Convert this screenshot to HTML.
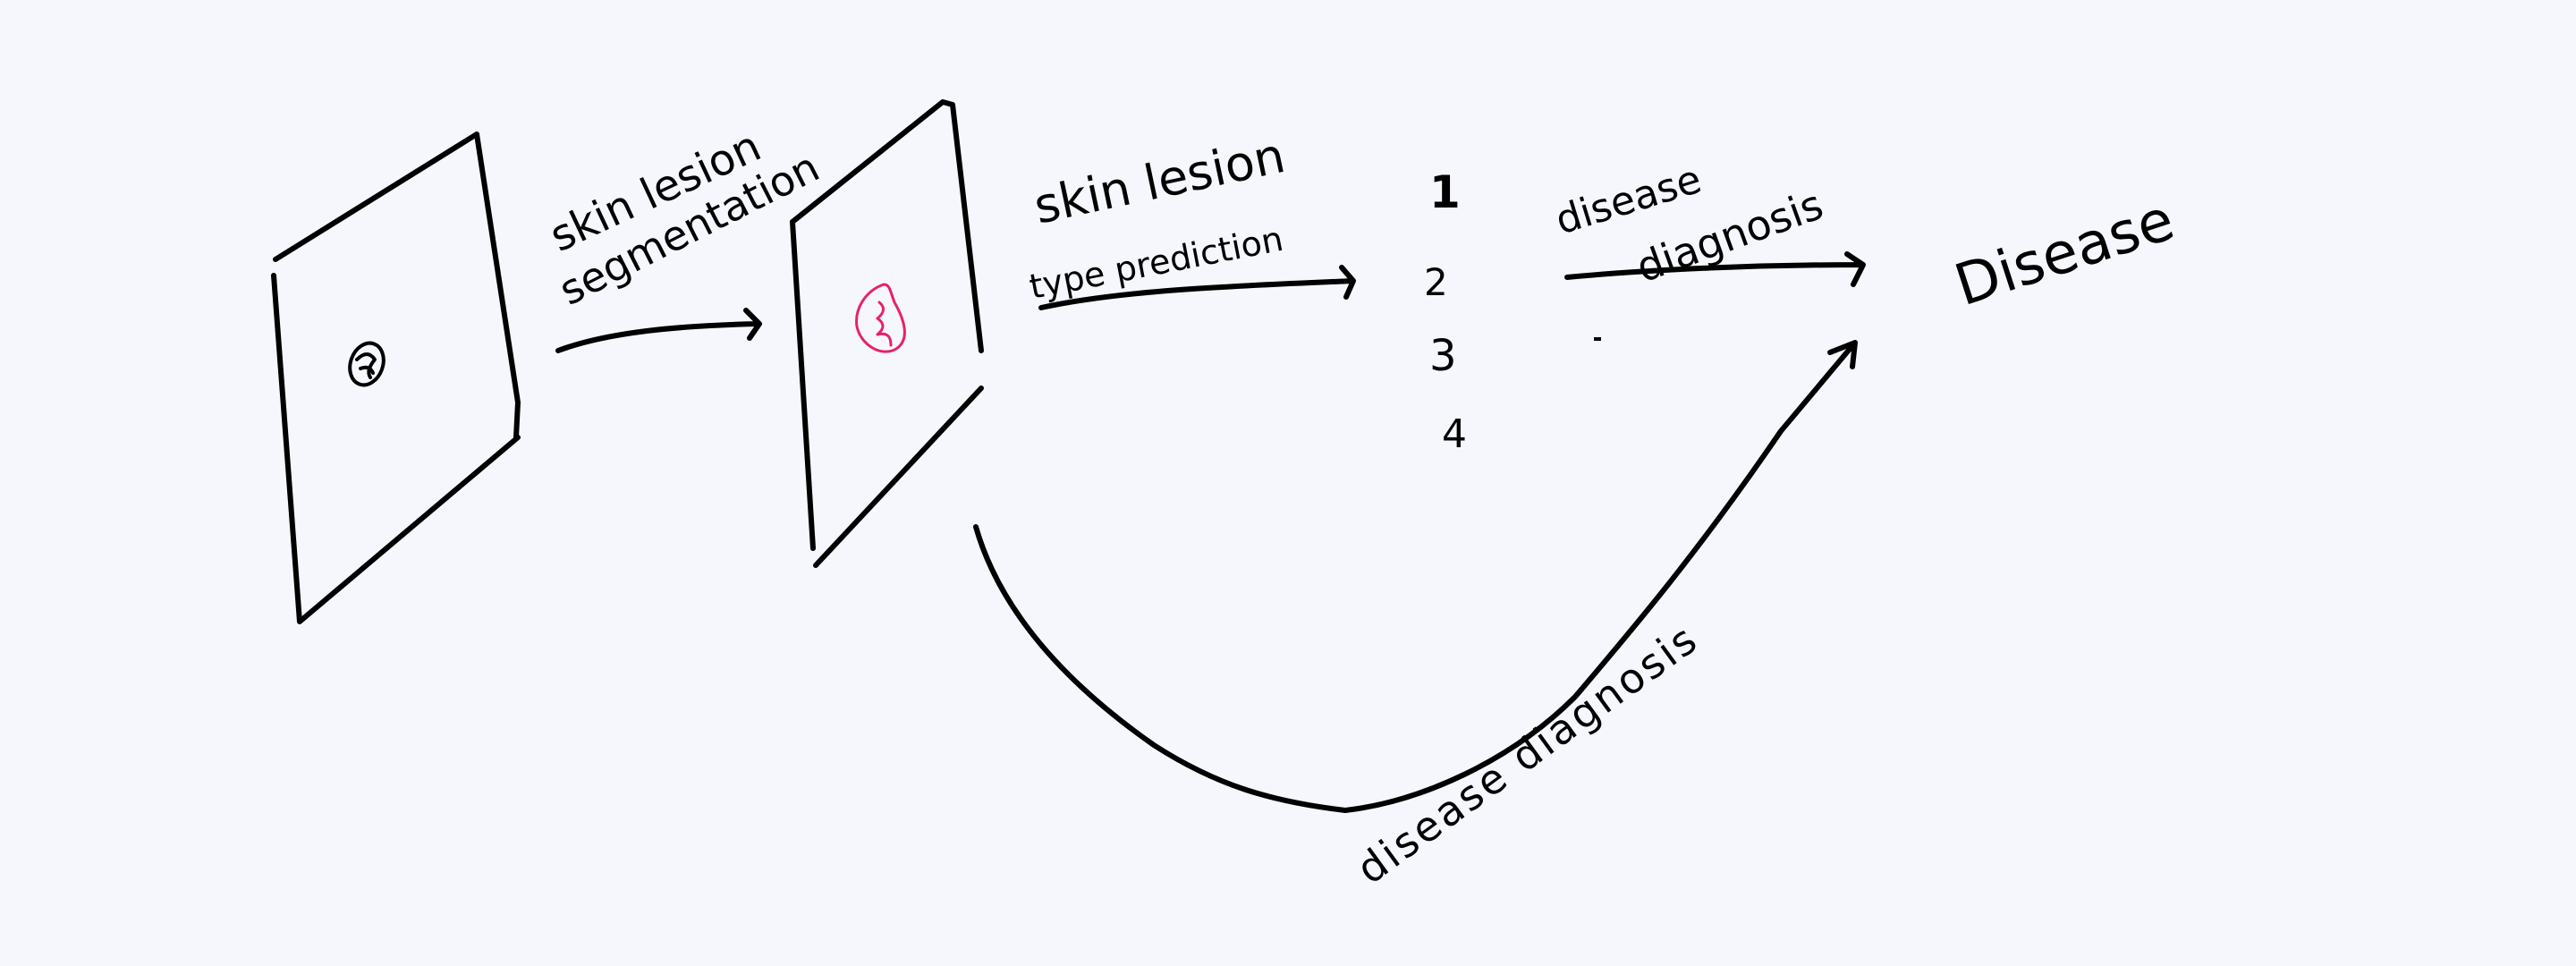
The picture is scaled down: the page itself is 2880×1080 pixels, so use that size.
<!DOCTYPE html>
<html><head><meta charset="utf-8"><style>
html,body{margin:0;padding:0;background:#f5f7fd;overflow:hidden}
svg{display:block}
text{font-family:"DejaVu Sans","Liberation Sans",sans-serif;fill:#000}
</style></head><body>
<svg width="2880" height="1080" viewBox="0 0 2880 1080">
<rect width="2880" height="1080" fill="#f5f7fd"/>
<g fill="none" stroke="#000" stroke-width="6" stroke-linecap="round" stroke-linejoin="round">
 <g>
  <path d="M308 290 L533 150 L579 450 L577 489"/>
  <path d="M306 308 L335 695 L579 489"/>
 </g>
 <g stroke-width="4">
  <ellipse cx="410" cy="407" rx="18" ry="24" transform="rotate(20 410 407)"/>
  <path d="M399 402 q12 -12 20 0 q-10 12 -5 20 M403 412 q10 -4 14 5"/>
 </g>
 <path d="M624 392 C680 371 760 364 849 362 M834 347 L849 362 L838 378"/>
 <g>
  <path d="M886 248 L1054 114 L1065 117 L1097 392"/>
  <path d="M886 248 L909 613 M912 632 L1097 434"/>
 </g>
 <g stroke="#e8206a" stroke-width="3">
  <path d="M988 318 C968 325 955 345 958 365 C962 385 985 400 1002 390 C1020 378 1008 352 1000 338 C995 325 995 318 988 318 Z"/>
  <path d="M983 338 q10 8 -2 18 q12 8 0 18 q15 -4 15 12"/>
 </g>
 <path d="M1164 344 C1260 323 1400 319 1513 314 M1500 299 L1513 314 L1505 332"/>
 <path d="M1752 310 C1860 300 1980 296 2083 296 M2065 284 L2083 296 L2072 318"/>
 <path d="M1091 589 C1120 690 1200 770 1290 833 C1360 878 1420 896 1504 906 C1590 896 1690 850 1761 779 C1830 698 1900 615 1991 482 L2074 383 M2046 394 L2074 383 L2071 410"/>
</g>
<text x="625" y="282" font-size="48" transform="rotate(-25 625 282)">skin lesion</text>
<text x="636" y="342" font-size="46" transform="rotate(-27 636 342)">segmentation</text>
<text x="1161" y="250" font-size="54" transform="rotate(-12 1161 250)">skin lesion</text>
<text x="1154" y="334" font-size="38" transform="rotate(-11 1154 334)">type prediction</text>
<text x="1598" y="232" font-size="50" font-weight="bold">1</text>
<text x="1592" y="330" font-size="42">2</text>
<text x="1598" y="414" font-size="48">3</text>
<text x="1612" y="500" font-size="44">4</text>
<rect x="1782" y="377" width="8" height="4" fill="#000"/>
<text x="1745" y="262" font-size="44" transform="rotate(-17 1745 262)">disease</text>
<text x="1837" y="316" font-size="46" transform="rotate(-20 1837 316)">diagnosis</text>
<text x="2195" y="342" font-size="64" transform="rotate(-18 2195 342)">Disease</text>
<text x="1532" y="990" font-size="46" letter-spacing="3" transform="rotate(-36 1532 990)">disease   diagnosis</text>
</svg>
</body></html>
